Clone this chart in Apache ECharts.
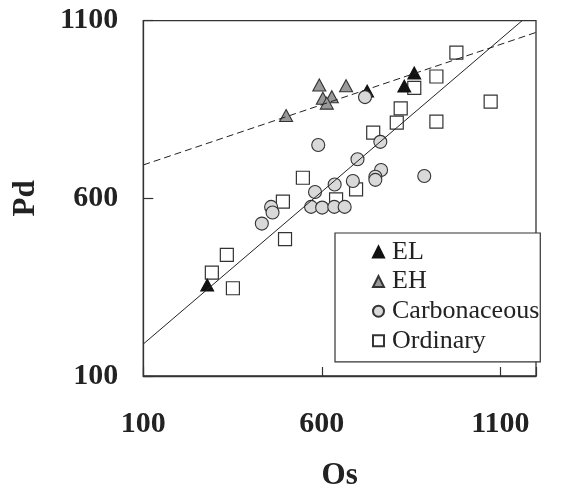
<!DOCTYPE html>
<html>
<head>
<meta charset="utf-8">
<script src="https://cdn.jsdelivr.net/npm/echarts@6/dist/echarts.min.js"></script>
<style>
html,body{margin:0;padding:0;background:#fff;}
#chart{width:565px;height:486px;}
</style>
</head>
<body>
<div id="chart"></div>
<script>
// ---- data ----
const xTicks = [100, 600, 1100];
const yTicks = [100, 600, 1100];
const elOs = [279, 727, 831, 859];
const elPd = [356, 902, 916, 953];
const ehOs = [500, 593, 668, 603, 628, 614];
const ehPd = [833, 919, 917, 882, 886, 868];
const carbOs = [721, 590, 764, 700, 766, 750, 750, 887, 687, 636, 581, 458, 462, 432, 570, 601, 635, 664];
const carbPd = [885, 750, 759, 710, 680, 661, 652, 663, 649, 639, 618, 576, 560, 529, 576, 574, 576, 576];
const ordOs = [547, 491, 497, 334, 292, 351, 640, 696, 744, 810, 821, 921, 859, 921, 977, 1073];
const ordPd = [658, 591, 485, 441, 391, 347, 597, 625, 785, 813, 853, 816, 911, 943, 1010, 872];
const solidOs = [100, 1161];
const solidPd = [190, 1100];
const dashOs = [100, 1200];
const dashPd = [694, 1067];

function pairs(xs, ys) { return xs.map((x, i) => [x, ys[i]]); }

const dark = '#333333';
const serif = '"Liberation Serif", "Times New Roman", serif';

const chart = echarts.init(document.getElementById('chart'));
chart.setOption({
  animation: false,
  backgroundColor: '#ffffff',
  grid: { left: 143.3, right: 29, top: 20.7, bottom: 110, containLabel: false, outerBoundsMode: 'none',
    show: true, borderColor: dark, borderWidth: 1.3, backgroundColor: 'transparent' },
  xAxis: {
    type: 'value', min: 100, max: 1200, interval: 500,
    name: 'Os', nameLocation: 'middle', nameGap: 84,
    nameTextStyle: { fontFamily: serif, fontWeight: 'bold', fontSize: 31, color: '#222' },
    axisLine: { show: true, lineStyle: { color: dark, width: 1.3 } },
    axisTick: { show: true, inside: true, length: 9, lineStyle: { color: dark, width: 1.2 } },
    splitLine: { show: false },
    axisLabel: { margin: 33, fontFamily: serif, fontWeight: 'bold', fontSize: 30, color: '#222',
      formatter: v => xTicks.includes(v) ? String(v) : '' }
  },
  yAxis: {
    type: 'value', min: 100, max: 1100, interval: 500,
    name: 'Pd', nameLocation: 'middle', nameGap: 102, nameRotate: 90,
    nameTextStyle: { fontFamily: serif, fontWeight: 'bold', fontSize: 31, color: '#222' },
    axisLine: { show: true, lineStyle: { color: dark, width: 1.3 } },
    axisTick: { show: true, inside: true, length: 10, lineStyle: { color: dark, width: 1.2 } },
    splitLine: { show: false },
    axisLabel: { margin: 25, padding: [16, 0, 0, 0], fontFamily: serif, fontWeight: 'bold', fontSize: 30, color: '#222',
      formatter: v => yTicks.includes(v) ? String(v) : '' }
  },
  legend: {
    data: ['EL', 'EH', 'Carbonaceous', 'Ordinary'],
    orient: 'vertical', left: 335, top: 233,
    padding: [6, 1, 8, 37], itemGap: 3.6,
    itemWidth: 11, itemHeight: 11,
    backgroundColor: '#ffffff', borderColor: dark, borderWidth: 1.2, borderRadius: 0,
    textStyle: { fontFamily: serif, fontSize: 26, lineHeight: 26, color: '#222', padding: [0, 0, 0, 3] }
  },
  series: [
    { name: 'Ordinary', type: 'scatter', data: pairs(ordOs, ordPd), symbol: 'rect', symbolSize: 13,
      itemStyle: { color: '#ffffff', borderColor: dark, borderWidth: 1.2, opacity: 1 }, z: 2 },
    { name: 'EL', type: 'scatter', data: pairs(elOs, elPd), symbol: 'triangle', symbolSize: [13, 12],
      itemStyle: { color: '#111111', borderColor: '#111111', borderWidth: 1, opacity: 1 }, z: 3 },
    { name: 'EH', type: 'scatter', data: pairs(ehOs, ehPd), symbol: 'triangle', symbolSize: [13, 12],
      itemStyle: { color: '#9a9a9a', borderColor: dark, borderWidth: 1.1, opacity: 1 }, z: 3 },
    { name: 'Carbonaceous', type: 'scatter', data: pairs(carbOs, carbPd), symbol: 'circle', symbolSize: 13,
      itemStyle: { color: '#d9d9d9', borderColor: dark, borderWidth: 1.1, opacity: 1 }, z: 4 },
    { name: 'fitSolid', type: 'line', data: pairs(solidOs, solidPd), symbol: 'none', silent: true,
      lineStyle: { color: '#222', width: 1, type: 'solid' }, z: 5 },
    { name: 'fitDashed', type: 'line', data: pairs(dashOs, dashPd), symbol: 'none', silent: true,
      lineStyle: { color: '#222', width: 1, type: [7, 4] }, z: 5 }
  ]
});
</script>
</body>
</html>
